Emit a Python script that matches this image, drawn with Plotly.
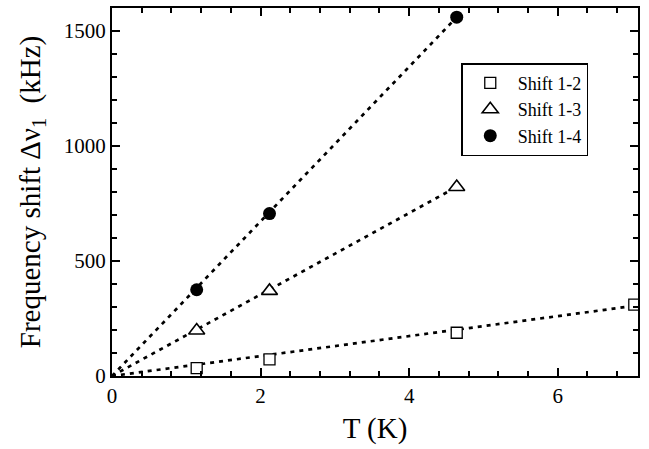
import plotly.graph_objects as go

# Data
T_12 = [1.14, 2.12, 4.64, 7.03]
shift_12 = [34, 72, 188, 310]
T_13 = [1.14, 2.12, 4.64]
shift_13 = [198, 370, 822]
T_14 = [1.14, 2.12, 4.64]
shift_14 = [375, 706, 1560]

# Linear fit lines (endpoints)
fit_12_x = [0, 7.03]
fit_12_y = [0, 305]
fit_13_x = [0, 4.64]
fit_13_y = [0, 822]
fit_14_x = [0, 4.64]
fit_14_y = [0, 1560]

x_ticks = [0, 2, 4, 6]
y_ticks = [0, 500, 1000, 1500]

FONT = "Liberation Serif, Times New Roman, serif"

fig = go.Figure()
dash = "4px,5px"
for fx, fy in [(fit_12_x, fit_12_y), (fit_13_x, fit_13_y), (fit_14_x, fit_14_y)]:
    fig.add_trace(go.Scatter(x=fx, y=fy, mode="lines", showlegend=False,
                             line=dict(color="black", width=2.7, dash=dash),
                             hoverinfo="skip"))

fig.add_trace(go.Scatter(x=T_12, y=shift_12, mode="markers", name="Shift 1-2",
                         marker=dict(symbol="square", size=11, color="white",
                                     line=dict(color="black", width=1.3))))
fig.add_trace(go.Scatter(x=T_13, y=shift_13, mode="markers", name="Shift 1-3",
                         marker=dict(symbol="triangle-up", size=14, color="white",
                                     line=dict(color="black", width=1.6))))
fig.add_trace(go.Scatter(x=T_14, y=shift_14, mode="markers", name="Shift 1-4",
                         marker=dict(symbol="circle", size=13, color="black",
                                     line=dict(color="black", width=0))))

axis_common = dict(showline=True, linecolor="black", linewidth=2, mirror="ticks",
                   ticks="inside", ticklen=8, tickwidth=1.5, tickcolor="black",
                   showgrid=False, zeroline=False,
                   tickfont=dict(family=FONT, size=21, color="black"))

fig.update_xaxes(range=[0, 7.08], tickvals=x_ticks,
                 minor=dict(dtick=0.4, ticks="inside", ticklen=5, tickwidth=1.5,
                            tickcolor="black", showgrid=False),
                 title=dict(text="T (K)", font=dict(family=FONT, size=29, color="black"),
                            standoff=10),
                 **axis_common)
fig.update_yaxes(range=[0, 1600], tickvals=y_ticks,
                 minor=dict(dtick=100, ticks="inside", ticklen=5, tickwidth=1.5,
                            tickcolor="black", showgrid=False),
                 title=dict(text="Frequency shift Δν<sub>1</sub>\u00a0\u00a0(kHz)",
                            font=dict(family=FONT, size=29, color="black"), standoff=15),
                 **axis_common)

fig.update_layout(
    width=649, height=449,
    margin=dict(l=112, r=11, t=6, b=73),
    paper_bgcolor="white", plot_bgcolor="white",
    font=dict(family=FONT, color="black"),
    legend=dict(x=0.664, y=0.85, xanchor="left", yanchor="top",
                bgcolor="white", bordercolor="black", borderwidth=1.5,
                font=dict(family=FONT, size=18, color="black"),
                itemwidth=45, tracegroupgap=0),
)

fig.write_html("out.html")
